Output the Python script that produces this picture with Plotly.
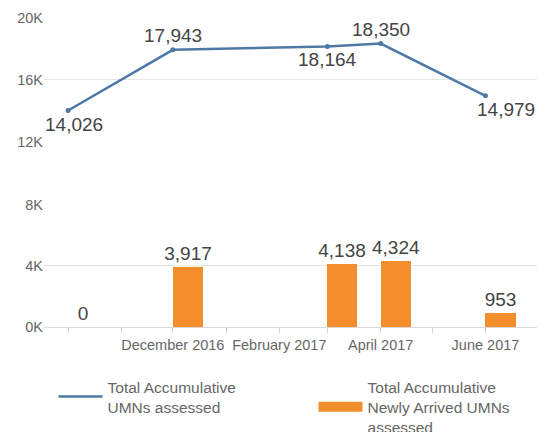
import plotly.graph_objects as go

# ---- data ----
dates = ["2016-10-01", "2016-12-01", "2017-03-01", "2017-04-01", "2017-06-01"]
total_assessed = [14026, 17943, 18164, 18350, 14979]
newly_arrived = [0, 3917, 4138, 4324, 953]

line_name = "Total Accumulative<br>UMNs assessed"
bar_name = "Total Accumulative<br>Newly Arrived UMNs<br>assessed"

month_ticks = ["2016-10-01", "2016-11-01", "2016-12-01", "2017-01-01", "2017-02-01",
               "2017-03-01", "2017-04-01", "2017-05-01", "2017-06-01", "2017-07-01"]
month_labels = ["", "", "December 2016", "", "February 2017",
                "", "April 2017", "", "June 2017", ""]

top_ticks = [12000, 16000, 20000]
top_labels = ["12K", "16K", "20K"]
bottom_ticks = [0, 4000, 8000]
bottom_labels = ["0K", "4K", "8K"]

# label placement (style) for the line's value labels
label_above = [False, True, False, True, False]
label_xshift = [6, 0, 0, 0, 21]

BLUE = "#4e79a7"
ORANGE = "#f28e2b"
TICK_COLOR = "#666666"
LABEL_COLOR = "#444444"
GRID = "#e6e6e6"
FONT = "Liberation Sans, Arial, sans-serif"

DAY_MS = 86400000

fig = go.Figure()

fig.add_trace(go.Scatter(
    x=dates, y=total_assessed, name=line_name,
    mode="lines",
    line=dict(color=BLUE, width=2.5),
    xaxis="x", yaxis="y",
))
fig.add_trace(go.Scatter(
    x=dates, y=total_assessed, name=line_name, showlegend=False,
    mode="markers",
    marker=dict(color=BLUE, size=5),
    xaxis="x", yaxis="y",
))

fig.add_trace(go.Bar(
    x=dates, y=newly_arrived, name=bar_name, showlegend=False,
    marker=dict(color=ORANGE, line=dict(width=0)),
    offset=0, width=17.5 * DAY_MS,
    text=[f"{v:,}" for v in newly_arrived],
    textposition="outside", constraintext="none",
    textfont=dict(size=19, color=LABEL_COLOR, family=FONT),
    cliponaxis=False,
    xaxis="x", yaxis="y2",
))

# legend key for the bars (wide swatch, as in the original legend)
fig.add_trace(go.Scatter(
    x=[None], y=[None], name=bar_name, mode="lines",
    line=dict(color=ORANGE, width=13),
    xaxis="x", yaxis="y2", hoverinfo="skip",
))

for d, v, above, xs in zip(dates, total_assessed, label_above, label_xshift):
    fig.add_annotation(
        x=d, y=v, xref="x", yref="y",
        text=f"{v:,}", showarrow=False,
        xanchor="center", yanchor="bottom" if above else "top",
        xshift=xs, yshift=2 if above else -1,
        font=dict(size=19, color=LABEL_COLOR, family=FONT),
    )

fig.update_layout(
    width=537, height=432,
    margin=dict(l=44, r=0, t=18, b=105, autoexpand=False),
    paper_bgcolor="white", plot_bgcolor="white",
    font=dict(family=FONT, color=TICK_COLOR, size=14.5),
    bargap=0,
    xaxis=dict(
        anchor="y2", type="date",
        range=["2016-09-17", "2017-07-01"],
        tickmode="array", tickvals=month_ticks, ticktext=month_labels,
        ticks="outside", ticklen=5, tickcolor="#d0d0d0",
        showline=True, linecolor="#d9d9d9", linewidth=1,
        showgrid=False, zeroline=False,
        tickfont=dict(size=14.5, color=TICK_COLOR),
    ),
    yaxis=dict(
        domain=[0.599, 1.0], range=[12000, 20000],
        tickmode="array", tickvals=top_ticks, ticktext=top_labels,
        showgrid=True, gridcolor=GRID, zeroline=False,
        tickfont=dict(size=14.5, color=TICK_COLOR),
    ),
    yaxis2=dict(
        domain=[0.0, 0.395], range=[0, 8000],
        tickmode="array", tickvals=bottom_ticks, ticktext=bottom_labels,
        showgrid=True, gridcolor=GRID, zeroline=False,
        tickfont=dict(size=14.5, color=TICK_COLOR),
    ),
    legend=dict(
        orientation="h", xref="paper", yref="paper",
        x=-0.001, xanchor="left", y=-0.139, yanchor="top",
        indentation=10,
        itemwidth=44,
        entrywidth=191, entrywidthmode="pixels",
        font=dict(size=15.5, color=TICK_COLOR, family=FONT),
        valign="middle", traceorder="normal",
    ),
    showlegend=True,
)

fig.write_html("out.html", config={"displayModeBar": False},
               post_script="document.body.style.margin='0';")
